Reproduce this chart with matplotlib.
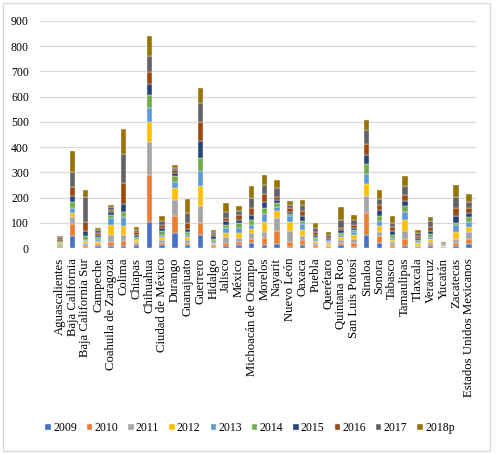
import numpy as np
import matplotlib
matplotlib.use("Agg")
import matplotlib.pyplot as plt
from matplotlib.patches import Rectangle

plt.rcParams['font.family'] = ['Liberation Serif', 'DejaVu Serif']

states = ["Aguascalientes", "Baja California", "Baja California Sur", "Campeche",
          "Coahuila de Zaragoza", "Colima", "Chiapas", "Chihuahua", "Ciudad de México",
          "Durango", "Guanajuato", "Guerrero", "Hidalgo", "Jalisco", "México",
          "Michoacán de Ocampo", "Morelos", "Nayarit", "Nuevo León", "Oaxaca", "Puebla",
          "Querétaro", "Quintana Roo", "San Luis Potosí", "Sinaloa", "Sonora", "Tabasco",
          "Tamaulipas", "Tlaxcala", "Veracruz", "Yucatán", "Zacatecas",
          "Estados Unidos Mexicanos"]

years = ["2009", "2010", "2011", "2012", "2013", "2014", "2015", "2016", "2017", "2018p"]

v2009 = [3, 47, 5, 8, 8, 8, 10, 104, 10, 59, 10, 53, 5, 8, 10, 18, 13, 16, 5, 13, 5, 3, 10, 5, 50, 18, 5, 8, 3, 8, 1, 8, 16]
v2010 = [6, 50, 8, 8, 16, 18, 8, 187, 10, 68, 10, 47, 5, 13, 13, 16, 26, 50, 18, 18, 5, 5, 10, 13, 87, 29, 8, 26, 5, 8, 2, 10, 21]
v2011 = [5, 24, 5, 5, 26, 26, 5, 129, 13, 63, 10, 68, 5, 21, 18, 24, 26, 53, 45, 18, 8, 5, 10, 16, 68, 18, 10, 32, 5, 8, 3, 18, 26]
v2012 = [3, 18, 8, 8, 40, 37, 8, 78, 10, 47, 13, 76, 5, 18, 18, 16, 37, 26, 37, 21, 8, 5, 13, 18, 47, 21, 10, 47, 5, 10, 2, 29, 21]
v2013 = [4, 21, 5, 8, 29, 32, 5, 58, 10, 26, 8, 63, 8, 18, 21, 18, 32, 18, 21, 26, 8, 5, 8, 10, 42, 21, 8, 29, 5, 10, 2, 26, 21]
v2014 = [4, 22, 16, 5, 13, 21, 8, 49, 16, 21, 13, 50, 8, 13, 18, 21, 24, 16, 10, 10, 10, 5, 10, 10, 39, 21, 10, 24, 8, 10, 2, 10, 16]
v2015 = [4, 24, 21, 8, 10, 32, 8, 43, 10, 12, 13, 68, 10, 16, 13, 18, 24, 10, 8, 21, 8, 5, 10, 8, 34, 21, 16, 21, 8, 13, 2, 24, 16]
v2016 = [6, 35, 34, 10, 10, 84, 10, 50, 13, 13, 24, 74, 8, 13, 18, 29, 34, 13, 13, 18, 10, 8, 8, 10, 45, 21, 16, 24, 8, 18, 3, 34, 21]
v2017 = [7, 60, 100, 10, 10, 116, 10, 63, 16, 10, 37, 74, 10, 24, 18, 39, 32, 37, 12, 24, 18, 10, 32, 21, 55, 26, 18, 34, 12, 21, 4, 45, 24]
v2018p = [5, 84, 26, 8, 8, 97, 13, 78, 20, 10, 58, 63, 8, 34, 18, 45, 42, 32, 18, 21, 21, 12, 50, 21, 39, 32, 24, 39, 12, 18, 3, 47, 32]

series = [v2009, v2010, v2011, v2012, v2013, v2014, v2015, v2016, v2017, v2018p]
colors = ["#4472C4", "#ED7D31", "#A5A5A5", "#FFC000", "#5B9BD5",
          "#70AD47", "#264478", "#9E480E", "#636363", "#997300"]

fig = plt.figure(figsize=(4.97, 4.54), dpi=100)
ax = fig.add_axes([0.0805, 0.4537, 0.8775, 0.5003])

x = np.arange(len(states))
bottom = np.zeros(len(states))
for vals, col, yr in zip(series, colors, years):
    vals = np.array(vals, dtype=float)
    ax.bar(x, vals, 0.42, bottom=bottom, color=col, label=yr,
           edgecolor="#F2F2F2", linewidth=0.3, zorder=3)
    bottom += vals

ax.set_ylim(0, 900)
ax.set_xlim(-1.55, 32.56)
ax.set_yticks(np.arange(0, 901, 100))
ax.yaxis.grid(True, color="#D9D9D9", linewidth=0.9, zorder=0)
ax.set_axisbelow(True)
for s in ax.spines.values():
    s.set_visible(False)
ax.tick_params(axis='both', length=0, labelsize=8.5, colors="#000000")
ax.tick_params(axis='y', pad=8)
ax.set_xticks(x)
ax.set_xticklabels(states, rotation=90, va='top', ha='center', fontsize=9.2)
ax.tick_params(axis='x', pad=7)

fig.legend(loc='center', bbox_to_anchor=(0.503, 0.057), ncol=10, frameon=False,
           fontsize=8.5, handlelength=0.45, handleheight=0.45, handletextpad=0.2,
           columnspacing=0.85, borderpad=0)

fig.patches.append(Rectangle((3/497, 3/454), 487/497, 448/454, transform=fig.transFigure,
                             fill=False, edgecolor="#D9D9D9", linewidth=0.9))

fig.savefig("out.png", dpi=100)
